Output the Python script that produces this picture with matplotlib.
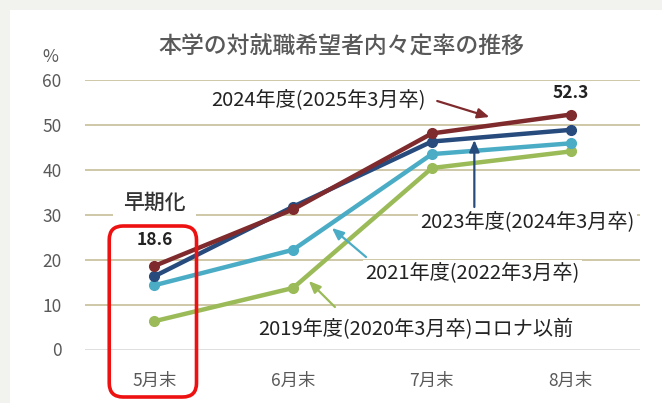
import matplotlib
matplotlib.use('Agg')
import matplotlib.pyplot as plt
from matplotlib.patches import FancyBboxPatch, Rectangle

plt.rcParams['font.family'] = ['Noto Sans CJK JP', 'DejaVu Sans']

# ----- data
months = ['5月末', '6月末', '7月末', '8月末']
fy2019 = [6.3, 13.7, 40.4, 44.1]
fy2021 = [14.3, 22.2, 43.5, 45.9]
fy2023 = [16.3, 31.8, 46.3, 48.9]
fy2024 = [18.6, 31.2, 48.1, 52.3]
yticks = [0, 10, 20, 30, 40, 50, 60]

c2019 = '#9bbb59'
c2021 = '#4bacc6'
c2023 = '#274b7d'
c2024 = '#7f2a2c'
grid_c = '#c6bf98'
tick_c = '#595959'
text_c = '#222222'

fig = plt.figure(figsize=(6.62, 4.03), dpi=100)
fig.patch.set_facecolor('#f2f3ee')
# white panel
fig.patches.append(Rectangle((10/662, 0), 1, 1 - 10/403, transform=fig.transFigure,
                             facecolor='white', edgecolor='none', zorder=-5))

ax = fig.add_axes([85/662, (403-349.5)/403, 555/662, 269.5/403])
ax.set_facecolor('none')
x = list(range(len(months)))

# gridlines
for v in yticks:
    ax.axhline(v, color='#d9d9d9' if v == 0 else grid_c, lw=1.2, zorder=1)

for vals, col in [(fy2019, c2019), (fy2021, c2021), (fy2023, c2023), (fy2024, c2024)]:
    ax.plot(x, vals, color=col, lw=3.2, marker='o', ms=7, zorder=3,
            solid_capstyle='round')

ax.set_xlim(-0.5, 3.5)
ax.set_ylim(0, 60)
ax.set_xticks(x)
ax.set_xticklabels(months)
ax.set_yticks(yticks)
ax.tick_params(length=0, colors=tick_c, labelsize=12.5)
ax.tick_params(axis='y', pad=17)
ax.tick_params(axis='x', pad=16)
for s in ax.spines.values():
    s.set_visible(False)

# title and unit
fig.text(341/662, 1 - 47/403, '本学の対就職希望者内々定率の推移', ha='center', va='center',
         fontsize=16.5, color=tick_c, fontweight='medium')
fig.text(50/662, 1 - 57/403, '%', ha='center', va='center', fontsize=12.5, color=tick_c)

# series labels with arrows
def px2d(px, py):
    return ((px - 155) / 138.33, (349.5 - py) / 4.4917)

labels = [
    ('2024年度(2025年3月卒)', (319, 100), (437, 101), (489, 117), c2024),
    ('2023年度(2024年3月卒)', (527, 222), (474, 207), (474, 140), c2023),
    ('2021年度(2022年3月卒)', (472, 273), (366, 257), (332, 228), c2021),
    ('2019年度(2020年3月卒)コロナ以前', (416, 330), (335, 307), (309, 281), c2019),
]
for txt, tpos, tail, head, col in labels:
    ax.text(*px2d(*tpos), txt, ha='center', va='center', fontsize=14.5, color=text_c,
            zorder=4, bbox=dict(boxstyle='square,pad=0.12', fc='white', ec='none'))
    ax.annotate('', xy=px2d(*head), xytext=px2d(*tail), zorder=5,
                arrowprops=dict(arrowstyle='-|>,head_length=0.7,head_width=0.3',
                                color=col, lw=1.6, shrinkA=0, shrinkB=0))

# value labels
ax.text(0, fy2024[0] + 5.8, '18.6', ha='center', va='center', fontsize=12.5,
        fontweight='bold', color=text_c, zorder=5)
ax.text(3, fy2024[3] + 4.9, '52.3', ha='center', va='center', fontsize=12.5,
        fontweight='bold', color=text_c, zorder=5)
ax.text(0, 32.6, '早期化', ha='center', va='center', fontsize=15, fontweight='medium',
        color='#333333', zorder=4,
        bbox=dict(boxstyle='square,pad=0.5', fc='white', ec='none'))

# red rounded frame around 5月末
x0, y0 = px2d(110, 397)
x1, y1 = px2d(197, 226)
aspect = 138.33 / 4.4917
box = FancyBboxPatch((x0, y0), x1 - x0, y1 - y0,
                     boxstyle='round,pad=0,rounding_size=0.1',
                     mutation_aspect=aspect, fc='none', ec='#ee1111', lw=2.6,
                     clip_on=False, zorder=6)
ax.add_patch(box)

fig.savefig('out.png', dpi=100)
